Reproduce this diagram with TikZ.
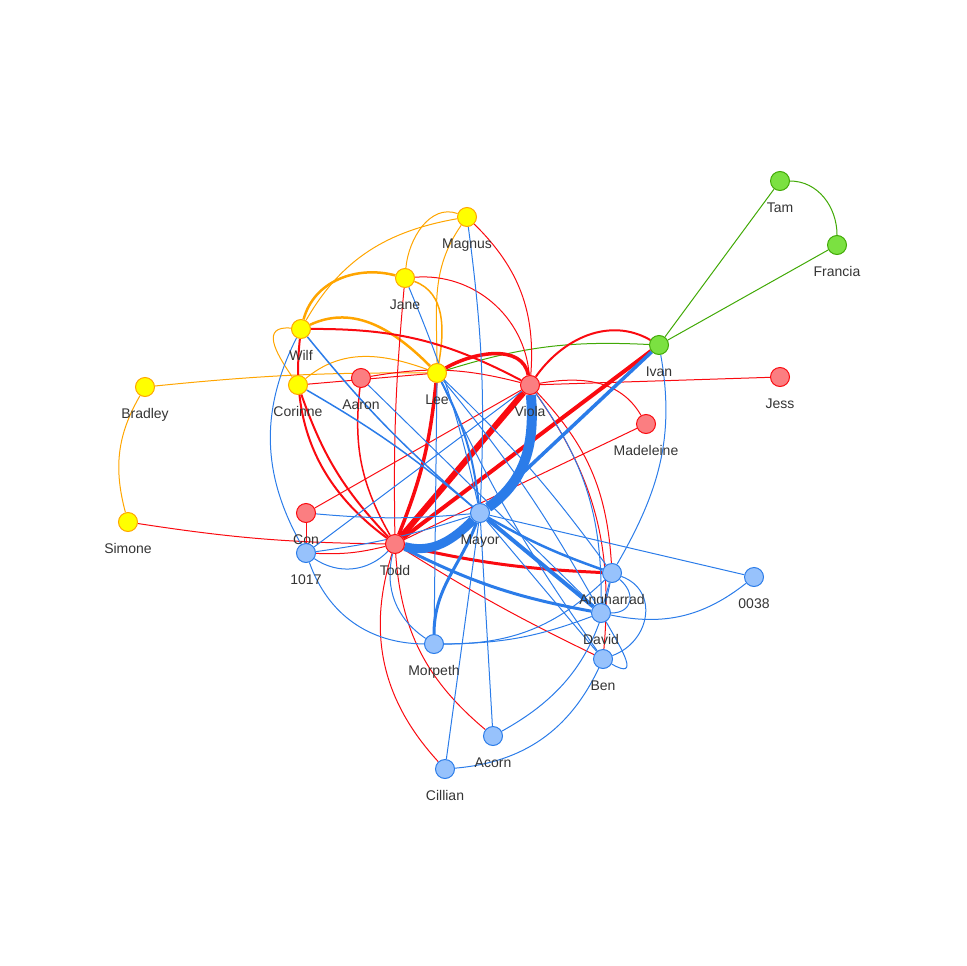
\documentclass[tikz,border=0pt]{standalone}
\usepackage{fontspec}
\setmainfont{Liberation Sans}
\usetikzlibrary{backgrounds}
\definecolor{blueb}{HTML}{2B7CE9}
\definecolor{bluef}{HTML}{97C2FC}
\definecolor{redb}{HTML}{FA0A10}
\definecolor{redf}{HTML}{FB7E81}
\definecolor{yellowb}{HTML}{FFA500}
\definecolor{yellowf}{HTML}{FFFF00}
\definecolor{greenb}{HTML}{41A906}
\definecolor{greenf}{HTML}{7BE141}
\definecolor{labelgray}{HTML}{343434}
\begin{document}
\begin{tikzpicture}[x=1pt, y=1pt, label distance=11pt,
  person/.style={circle, minimum size=19pt, inner sep=0pt, line width=1pt},
  bnode/.style={person, draw=blueb, fill=bluef},
  rnode/.style={person, draw=redb, fill=redf},
  ynode/.style={person, draw=yellowb, fill=yellowf},
  gnode/.style={person, draw=greenb, fill=greenf},
  lbl/.style={font=\fontsize{14}{16}\selectfont, text=labelgray, inner sep=0pt, text height=10pt, text depth=3pt},
  every label/.style={lbl},
  bedge/.style={draw=blueb, line width=1pt},
  redge/.style={draw=redb, line width=1pt},
  oedge/.style={draw=yellowb, line width=1pt},
  gedge/.style={draw=greenb, line width=1pt}]
\useasboundingbox (0,0) rectangle (966,-966);
\node[gnode, label=below:Tam] (tam) at (780,-181) {};
\node[gnode, label=below:Francia] (francia) at (837,-245) {};
\node[ynode, label=below:Magnus] (magnus) at (467,-217) {};
\node[ynode, label=below:Jane] (jane) at (405,-278) {};
\node[ynode, label=below:Wilf] (wilf) at (301,-329) {};
\node[gnode, label=below:Ivan] (ivan) at (659,-345) {};
\node[ynode, label=below:Bradley] (bradley) at (145,-387) {};
\node[ynode, label=below:Corinne] (corinne) at (298,-385) {};
\node[rnode, label=below:Aaron] (aaron) at (361,-378) {};
\node[ynode, label=below:Lee] (lee) at (437,-373) {};
\node[rnode, label=below:Viola] (viola) at (530,-385) {};
\node[rnode, label=below:Jess] (jess) at (780,-377) {};
\node[rnode, label=below:Madeleine] (madeleine) at (646,-424) {};
\node[ynode, label=below:Simone] (simone) at (128,-522) {};
\node[rnode, label=below:Con] (con) at (306,-513) {};
\node[bnode, label=below:1017] (p1017) at (306,-553) {};
\node[rnode, label=below:Todd] (todd) at (395,-544) {};
\node[bnode, label=below:Mayor] (mayor) at (480,-513) {};
\node[bnode, label=below:Angharrad] (angharrad) at (612,-573) {};
\node[bnode, label=below:0038] (p0038) at (754,-577) {};
\node[bnode, label=below:David] (david) at (601,-613) {};
\node[bnode, label=below:Ben] (ben) at (603,-659) {};
\node[bnode, label=below:Morpeth] (morpeth) at (434,-644) {};
\node[bnode, label=below:Acorn] (acorn) at (493,-736) {};
\node[bnode, label=below:Cillian] (cillian) at (445,-769) {};
\begin{scope}[on background layer]
\draw[gedge] (tam) to[out=0,in=90] (francia);
\draw[gedge] (ivan) -- (tam);
\draw[gedge] (ivan) -- (francia);
\draw[gedge] (lee) to[bend left=10] (ivan);
\draw[oedge] (bradley) to[out=240,in=105] (simone);
\draw[oedge] (bradley) to[bend left=3] (lee);
\draw[oedge] (wilf) to[out=175,in=125,looseness=1.6] (corinne);
\draw[oedge, line width=2.5pt] (wilf) to[out=75,in=165] (jane);
\draw[oedge] (wilf) to[out=60,in=190] (magnus);
\draw[oedge, line width=2.5pt] (wilf) to[out=25,in=135] (lee);
\draw[oedge] (jane) to[out=85,in=160] (magnus);
\draw[oedge] (magnus) to[out=235,in=90] (lee);
\draw[oedge, line width=1.5pt] (jane) to[out=-20,in=80] (lee);
\draw[oedge] (corinne) to[out=40,in=160] (lee);
\draw[redge] (simone) to[bend right=4] (todd);
\draw[redge] (viola) -- (jess);
\draw[redge] (viola) to[out=10,in=120] (madeleine);
\draw[redge] (madeleine) -- (todd);
\draw[redge, line width=4pt] (ivan) -- (todd);
\draw[redge, line width=2pt] (viola) to[out=55,in=150] (ivan);
\draw[redge, line width=3.5pt] (lee) to[out=30,in=100] (viola);
\draw[redge, line width=3.5pt] (lee) to[bend left=8] (todd);
\draw[redge, line width=6pt] (viola) -- (todd);
\draw[redge, line width=3pt] (todd) to[bend right=5] (angharrad);
\draw[redge, line width=2pt] (wilf) to[bend right=30] (todd);
\draw[redge, line width=2pt] (corinne) to[bend right=12] (todd);
\draw[redge, line width=1.5pt] (aaron) to[bend right=18] (todd);
\draw[redge] (jane) to[bend right=3] (todd);
\draw[redge] (magnus) to[bend left=25] (viola);
\draw[redge] (jane) to[bend left=45] (viola);
\draw[redge, line width=2pt] (wilf) to[bend left=14] (viola);
\draw[redge] (corinne) -- (lee);
\draw[redge] (aaron) to[bend left=12] (viola);
\draw[redge] (con) -- (viola);
\draw[redge] (viola) to[bend left=20] (angharrad);
\draw[redge] (viola) to[bend left=20] (ben);
\draw[redge] (todd) to[bend right=3] (ben);
\draw[redge] (todd) to[bend right=23] (acorn);
\draw[redge] (todd) to[bend right=30] (cillian);
\draw[redge] (con) -- (p1017);
\draw[redge] (p1017) to[bend right=8] (todd);
\draw[bedge, line width=10pt] (viola) to[out=-85,in=35] (mayor);
\draw[bedge, line width=9pt] (todd) to[out=-15,in=225] (mayor);
\draw[bedge, line width=3.5pt] (ivan) -- (mayor);
\draw[bedge] (ivan) to[out=-80,in=60] (angharrad);
\draw[bedge, line width=2.5pt] (mayor) to[bend right=5] (angharrad);
\draw[bedge, line width=4pt] (mayor) -- (david);
\draw[bedge] (mayor) -- (p0038);
\draw[bedge, line width=3pt] (mayor) to[out=250,in=90] (morpeth);
\draw[bedge] (mayor) -- (acorn);
\draw[bedge] (mayor) -- (cillian);
\draw[bedge] (mayor) -- (ben);
\draw[bedge] (magnus) to[bend left=5] (mayor);
\draw[bedge] (jane) to[bend left=5] (mayor);
\draw[bedge, line width=2pt] (lee) to[bend left=10] (mayor);
\draw[bedge] (lee) -- (morpeth);
\draw[bedge] (lee) to[bend left=5] (angharrad);
\draw[bedge] (lee) to[bend left=5] (david);
\draw[bedge] (lee) to[bend right=5] (ben);
\draw[bedge, line width=1.5pt] (wilf) to[bend right=5] (mayor);
\draw[bedge] (wilf) to[bend right=28] (p1017);
\draw[bedge, line width=1.5pt] (corinne) to[bend left=5] (mayor);
\draw[bedge] (aaron) -- (david);
\draw[bedge] (con) to[bend right=5] (mayor);
\draw[bedge] (p1017) to[bend right=5] (mayor);
\draw[bedge] (p1017) -- (viola);
\draw[bedge] (p1017) to[bend right=40] (todd);
\draw[bedge] (p1017) to[bend right=35] (morpeth);
\draw[bedge] (todd) to[bend right=35] (morpeth);
\draw[bedge, line width=3pt] (todd) to[bend right=8] (david);
\draw[bedge] (morpeth) to[bend right=10] (david);
\draw[bedge] (morpeth) to[bend right=22] (angharrad);
\draw[bedge] (acorn) to[bend right=25] (angharrad);
\draw[bedge] (cillian) to[bend right=30] (ben);
\draw[bedge] (angharrad) -- (david);
\draw[bedge] (angharrad) to[out=-40,in=0,looseness=1.6] (david);
\draw[bedge] (angharrad) to[out=-20,in=20,looseness=1.3] (ben);
\draw[bedge] (david) to[out=-60,in=-30,looseness=2] (ben);
\draw[bedge] (david) to[bend right=25] (p0038);
\draw[bedge] (viola) to[bend left=18] (david);
\end{scope}
\end{tikzpicture}
\end{document}
